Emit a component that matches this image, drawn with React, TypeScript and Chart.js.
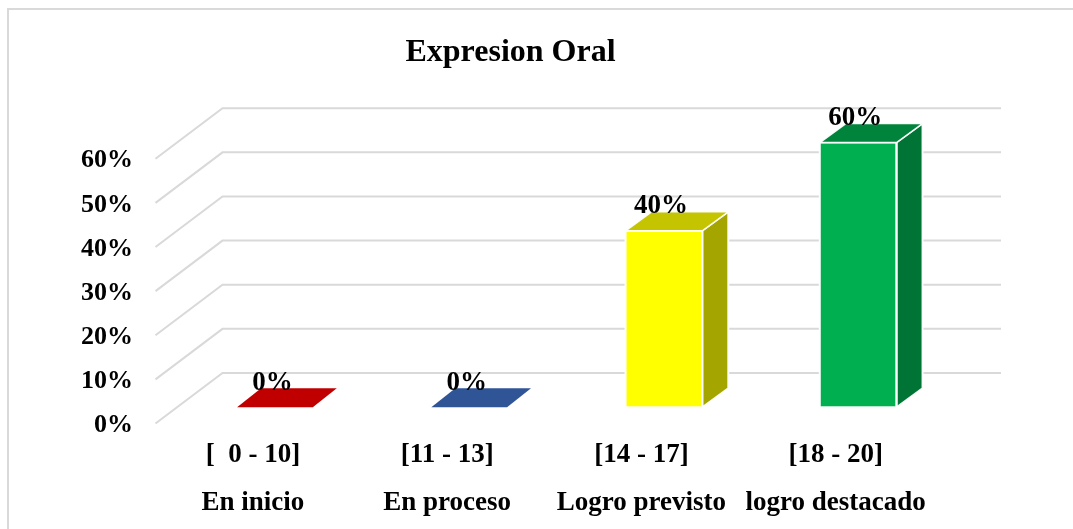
import React, { useEffect, useRef } from "react";
import { Chart, registerables } from "chart.js";

Chart.register(...registerables);

const titleText = "Expresion Oral";
const ranges = ["[  0 - 10]", "[11 - 13]", "[14 - 17]", "[18 - 20]"];
const levels = ["En inicio", "En proceso", "Logro previsto", "logro destacado"];
const values = [0, 0, 40, 60];
const tickValues = [0, 10, 20, 30, 40, 50, 60];

const frontColors = ["#C00000", "#2F5597", "#FFFF00", "#00B050"];
const topColors = ["#C00000", "#2F5597", "#C4C400", "#00843C"];
const sideColors = ["#C00000", "#2F5597", "#A5A500", "#007434"];

const FONT = '"Liberation Serif", "Times New Roman", serif';
const GRID = "#D9D9D9";

// Pseudo-3D layout
const FLOOR_DX = 67;
const FLOOR_DY = 50.5;
const BAR_DX = 26;
const BAR_DY = 19;
const FLAT_DX = 24;
const GRID_RIGHT = 1001;

const frame3d = {
  id: "frame3d",
  beforeDraw(chart: any) {
    const { ctx, width, height } = chart;
    ctx.save();
    ctx.strokeStyle = "#D9D9D9";
    ctx.lineWidth = 2;
    ctx.beginPath();
    ctx.moveTo(8, height);
    ctx.lineTo(8, 9);
    ctx.lineTo(width, 9);
    ctx.stroke();
    ctx.restore();
  },
  beforeDatasetsDraw(chart: any) {
    const { ctx } = chart;
    const y = chart.scales.y;
    ctx.save();
    ctx.strokeStyle = GRID;
    ctx.lineWidth = 2;
    ctx.lineJoin = "miter";
    tickValues.forEach((v) => {
      const py = y.getPixelForValue(v);
      ctx.beginPath();
      ctx.moveTo(155.5, py);
      ctx.lineTo(155.5 + FLOOR_DX, py - FLOOR_DY);
      ctx.lineTo(GRID_RIGHT, py - FLOOR_DY);
      ctx.stroke();
    });
    ctx.restore();
  },
  afterDatasetsDraw(chart: any) {
    const { ctx } = chart;
    const meta = chart.getDatasetMeta(0);
    ctx.save();
    meta.data.forEach((bar: any, i: number) => {
      const flat = bar.base - bar.y <= 1;
      const left = bar.x - bar.width / 2;
      const right = bar.x + bar.width / 2 - (flat ? 1 : 0);
      const top = bar.y;
      const base = bar.base;
      const dx = flat ? FLAT_DX : BAR_DX;
      const face = (pts: number[][], fill: string) => {
        ctx.beginPath();
        pts.forEach((p, k) => (k ? ctx.lineTo(p[0], p[1]) : ctx.moveTo(p[0], p[1])));
        ctx.closePath();
        ctx.fillStyle = fill;
        ctx.fill();
      };
      const outline = (pts: number[][]) => {
        ctx.beginPath();
        pts.forEach((p, k) => (k ? ctx.lineTo(p[0], p[1]) : ctx.moveTo(p[0], p[1])));
        ctx.closePath();
        ctx.stroke();
      };
      const topFace = [
        [left, top],
        [left + dx, top - BAR_DY],
        [right + dx, top - BAR_DY],
        [right, top],
      ];
      ctx.strokeStyle = "rgba(255,255,255,0.95)";
      ctx.lineWidth = 2;
      if (!flat) {
        const sideFace = [
          [right, top],
          [right + dx, top - BAR_DY],
          [right + dx, base - BAR_DY],
          [right, base],
        ];
        face(sideFace, sideColors[i]);
        outline(sideFace);
        outline([
          [left, top],
          [right, top],
          [right, base],
          [left, base],
        ]);
      }
      face(topFace, topColors[i]);
      if (!flat) {
        ctx.lineWidth = 1.5;
        outline(topFace);
      }
    });
    ctx.fillStyle = "#000";
    ctx.font = `bold 27px ${FONT}`;
    ctx.textAlign = "center";
    ctx.textBaseline = "middle";
    meta.data.forEach((bar: any, i: number) => {
      ctx.fillText(`${values[i]}%`, bar.x - 3, bar.y - 24.5);
    });
    ctx.restore();
  },
};

export default function App() {
  const ref = useRef<HTMLCanvasElement>(null);
  useEffect(() => {
    const chart = new Chart(ref.current as HTMLCanvasElement, {
      type: "bar",
      data: {
        labels: ranges.map((r, i) => [r, levels[i]]),
        datasets: [
          {
            data: values,
            yAxisID: "yBars",
            backgroundColor: frontColors,
            borderWidth: 0,
            barPercentage: 0.79,
            categoryPercentage: 0.5,
          },
        ],
      },
      options: {
        responsive: false,
        animation: false,
        layout: { padding: { left: 65.7, right: 117.7, top: 0, bottom: 0 } },
        plugins: {
          legend: { display: false },
          tooltip: { enabled: false },
          title: {
            display: true,
            text: titleText,
            color: "#000",
            font: { family: FONT, size: 32, weight: "bold", lineHeight: 1.2 },
            padding: { top: 34, bottom: 35.6 },
          },
        },
        scales: {
          x: {
            grid: { display: false },
            border: { display: false },
            ticks: {
              color: "#000",
              padding: 0,
              labelOffset: -22.5,
              maxRotation: 0,
              autoSkip: false,
              font: { family: FONT, size: 27, weight: "bold", lineHeight: 48 / 27 },
            },
            afterFit: (s: any) => {
              s.height = 105.5;
            },
          },
          y: {
            min: 0,
            max: 71.5,
            grid: { display: false },
            border: { display: false },
            ticks: {
              color: "#000",
              padding: 37.3,
              labelOffset: 2,
              stepSize: 10,
              includeBounds: false,
              font: { family: FONT, size: 26, weight: "bold" },
              callback: (v: any) => `${v}%`,
            },
            afterBuildTicks: (s: any) => {
              s.ticks = tickValues.map((value) => ({ value }));
            },
            afterFit: (s: any) => {
              s.width = 112.6;
            },
          },
          yBars: {
            display: false,
            min: -3.67,
            max: 67.83,
          },
        },
      },
      plugins: [frame3d],
    } as any);
    return () => chart.destroy();
  }, []);
  return (
    <canvas
      ref={ref}
      width={1073}
      height={529}
      style={{ position: "fixed", left: 0, top: 0, width: 1073, height: 529, display: "block" }}
    />
  );
}
